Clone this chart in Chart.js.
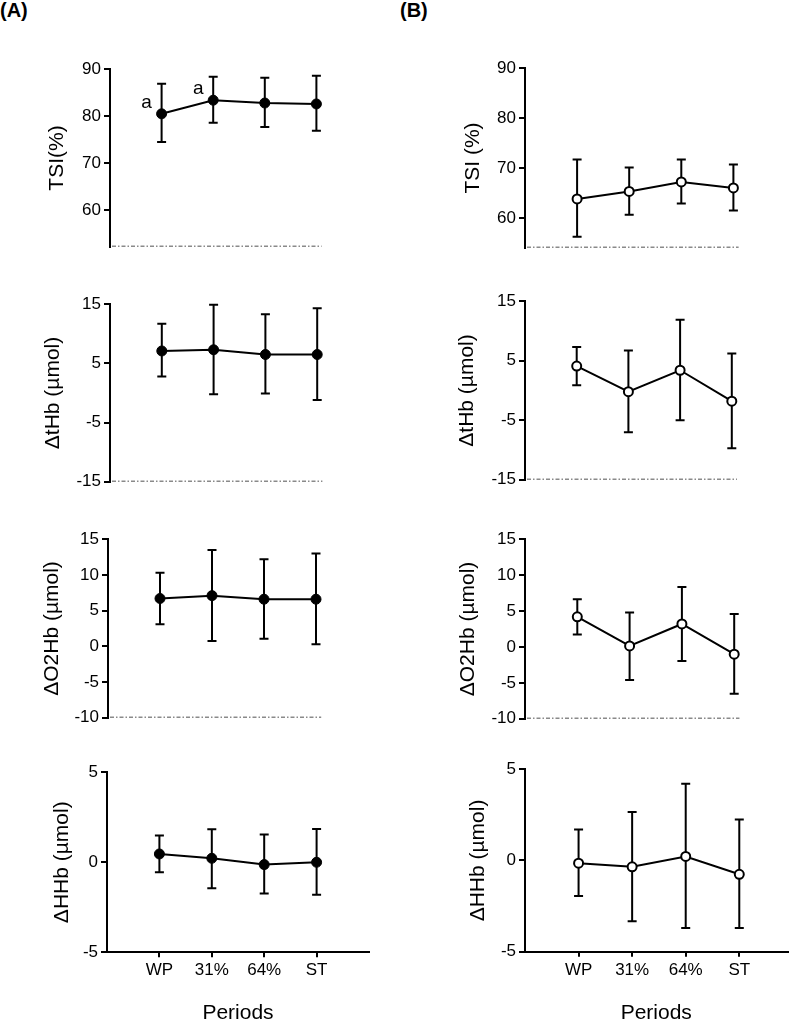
<!DOCTYPE html>
<html>
<head>
<meta charset="utf-8">
<script src="https://cdn.jsdelivr.net/npm/chart.js@4.4.1/dist/chart.umd.min.js"></script>
<style>
  html, body { margin: 0; padding: 0; background: #fff; }
  body { width: 794px; height: 1023px; overflow: hidden; position: relative; font-family: "Liberation Sans", Arial, sans-serif; }
  canvas { position: absolute; }
  .lab { position: absolute; font-weight: bold; font-size: 20px; color: #000; }
</style>
</head>
<body>
<div class="lab" style="left:0px;top:-1px;">(A)</div>
<div class="lab" style="left:400px;top:-1px;">(B)</div>
<script>
// ---------------- DATA ----------------
const periods = ['WP', '31%', '64%', 'ST'];
const xTitle = 'Periods';

// Panel A (filled circles)
const tsiA     = [80.5, 83.4, 82.8, 82.6];
const tsiAHi   = [86.9, 88.4, 88.2, 88.6];
const tsiALo   = [74.5, 78.6, 77.7, 76.9];
const tsiANote = ['a', 'a', '', ''];

const tHbA   = [7.1, 7.3, 6.5, 6.5];
const tHbAHi = [11.7, 14.9, 13.3, 14.3];
const tHbALo = [2.8, -0.2, -0.1, -1.2];

const o2HbA   = [6.7, 7.1, 6.6, 6.6];
const o2HbAHi = [10.3, 13.5, 12.2, 13.0];
const o2HbALo = [3.1, 0.75, 1.05, 0.3];

const hHbA   = [0.46, 0.22, -0.13, 0.0];
const hHbAHi = [1.48, 1.83, 1.54, 1.85];
const hHbALo = [-0.55, -1.45, -1.74, -1.81];

// Panel B (open circles)
const tsiB   = [63.8, 65.3, 67.2, 66.0];
const tsiBHi = [71.7, 70.1, 71.7, 70.7];
const tsiBLo = [56.2, 60.6, 62.9, 61.5];

const tHbB   = [4.1, -0.2, 3.4, -1.8];
const tHbBHi = [7.3, 6.7, 11.9, 6.2];
const tHbBLo = [0.9, -7.0, -5.0, -9.7];

const o2HbB   = [4.2, 0.15, 3.2, -1.0];
const o2HbBHi = [6.65, 4.8, 8.35, 4.6];
const o2HbBLo = [1.75, -4.6, -1.95, -6.5];

const hHbB   = [-0.15, -0.35, 0.22, -0.76];
const hHbBHi = [1.69, 2.65, 4.2, 2.24];
const hHbBLo = [-1.95, -3.33, -3.7, -3.7];

// Axis ticks / ranges
const tsiTicks  = [60, 70, 80, 90];
const tHbTicks  = [-15, -5, 5, 15];
const o2HbTicks = [-10, -5, 0, 5, 10, 15];
const hHbTicks  = [-5, 0, 5];
const tsiARange = [52.2, 90];
const tsiBRange = [54, 90];
const tHbRange  = [-15, 15];
const o2HbRange = [-10, 15];
const hHbRange  = [-5, 5];

const titles = ['TSI(%)', 'TSI (%)', '\u0394tHb (\u00b5mol)', '\u0394O2Hb (\u00b5mol)', '\u0394HHb (\u00b5mol)'];

// ---------------- LAYOUT ----------------
Chart.defaults.font.family = '"Liberation Sans", Arial, sans-serif';
Chart.defaults.color = '#000';

const errBars = {
  id: 'errBars',
  beforeDatasetsDraw(chart, args, o) {
    const ctx = chart.ctx, xs = chart.scales.x, ys = chart.scales.y;
    ctx.save();
    ctx.strokeStyle = '#000'; ctx.lineWidth = 2;
    o.hi.forEach((h, i) => {
      const px = xs.getPixelForValue(i + 1);
      const ph = ys.getPixelForValue(h), pl = ys.getPixelForValue(o.lo[i]);
      ctx.beginPath();
      ctx.moveTo(px, ph); ctx.lineTo(px, pl);
      ctx.moveTo(px - 4.5, ph); ctx.lineTo(px + 4.5, ph);
      ctx.moveTo(px - 4.5, pl); ctx.lineTo(px + 4.5, pl);
      ctx.stroke();
    });
    if (o.dotEnd) {
      const a = chart.chartArea;
      ctx.strokeStyle = '#8a8a8a'; ctx.lineWidth = 1.5;
      ctx.setLineDash([4, 2, 1.5, 2]);
      ctx.beginPath();
      ctx.moveTo(a.left + 2, a.bottom - 0.5);
      ctx.lineTo(xs.getPixelForValue(o.dotEnd), a.bottom - 0.5);
      ctx.stroke();
    }
    ctx.restore();
  },
  afterDatasetsDraw(chart, args, o) {
    if (!o.notes) return;
    const ctx = chart.ctx, xs = chart.scales.x, ys = chart.scales.y;
    ctx.save();
    ctx.font = '19px "Liberation Sans", Arial, sans-serif';
    ctx.fillStyle = '#000'; ctx.textAlign = 'center'; ctx.textBaseline = 'middle';
    o.notes.forEach((t, i) => {
      if (!t) return;
      ctx.fillText(t, xs.getPixelForValue(i + 1) - 15, ys.getPixelForValue(o.vals[i]) - 11);
    });
    ctx.restore();
  }
};

function panel(g, vals, hi, lo, range, ticks, title, open, bottomRow, notes) {
  const PAD = 12;
  const cv = document.createElement('canvas');
  const top = g.plotTop - PAD;
  const canvasBottom = bottomRow ? 1030 : g.plotBottom + PAD;
  const h = Math.round(canvasBottom - top);
  const w = Math.round(g.right - g.colLeft + 4);
  cv.width = w; cv.height = h;
  cv.style.left = g.colLeft + 'px'; cv.style.top = top + 'px';
  cv.style.width = w + 'px'; cv.style.height = h + 'px';
  document.body.appendChild(cv);
  const xMax = g.xMax || 5;
  new Chart(cv, {
    type: 'line',
    data: {
      datasets: [{
        data: vals.map((v, i) => ({ x: i + 1, y: v })),
        borderColor: '#000', borderWidth: 2, tension: 0,
        pointRadius: open ? 4.5 : 5, pointBackgroundColor: open ? '#fff' : '#000',
        pointBorderColor: '#000', pointBorderWidth: open ? 2 : 1
      }]
    },
    options: {
      responsive: false, animation: false, events: [],
      layout: { padding: { top: PAD, bottom: bottomRow ? 0 : PAD, left: 0, right: 4 } },
      plugins: {
        legend: { display: false }, tooltip: { enabled: false },
        errBars: { hi: hi, lo: lo, dotEnd: bottomRow ? 0 : 4.1, notes: notes || null, vals: vals }
      },
      scales: {
        x: {
          type: 'linear', min: 0, max: xMax, display: bottomRow,
          afterBuildTicks: s => { s.ticks = periods.map((p, i) => ({ value: i + 1 })); },
          afterFit: s => { if (bottomRow) s.height = canvasBottom - g.plotBottom; },
          ticks: { font: { size: 17 }, padding: 3, callback: (v, i) => periods[i], maxRotation: 0, autoSkip: false },
          grid: { display: true, drawOnChartArea: false, drawTicks: true, tickLength: 5, color: '#000', lineWidth: 2 },
          border: { display: true, color: '#000', width: 2 },
          title: { display: bottomRow, text: xTitle, font: { size: 21 }, padding: { top: 0, bottom: 4 } }
        },
        y: {
          type: 'linear', min: range[0], max: range[1],
          afterBuildTicks: s => { s.ticks = ticks.map(v => ({ value: v })); },
          afterFit: s => { s.width = g.axisX - g.colLeft; },
          ticks: { font: { size: 17 }, padding: 3 },
          grid: { display: true, drawOnChartArea: false, drawTicks: true, tickLength: 6, color: '#000', lineWidth: 2 },
          border: { display: true, color: '#000', width: 2 },
          title: { display: true, text: title, font: { size: 21 }, padding: { top: g.titleX - g.colLeft - 12.6, bottom: 0 } }
        }
      }
    },
    plugins: [errBars]
  });
}

panel({ colLeft: 0, axisX: 110, right: 370, plotTop: 68, plotBottom: 248, titleX: 57 },
      tsiA, tsiAHi, tsiALo, tsiARange, tsiTicks, titles[0], false, false, tsiANote);
panel({ colLeft: 0, axisX: 110, right: 371, plotTop: 302.7, plotBottom: 482.7, titleX: 53 },
      tHbA, tHbAHi, tHbALo, tHbRange, tHbTicks, titles[2], false, false);
panel({ colLeft: 0, axisX: 108, right: 370, plotTop: 538.3, plotBottom: 719.3, titleX: 52 },
      o2HbA, o2HbAHi, o2HbALo, o2HbRange, o2HbTicks, titles[3], false, false);
panel({ colLeft: 0, axisX: 107, right: 371, plotTop: 770.7, plotBottom: 952.3, titleX: 62 },
      hHbA, hHbAHi, hHbALo, hHbRange, hHbTicks, titles[4], false, true);

panel({ colLeft: 400, axisX: 525, right: 788, plotTop: 66.7, plotBottom: 248.3, titleX: 473 },
      tsiB, tsiBHi, tsiBLo, tsiBRange, tsiTicks, titles[1], true, false);
panel({ colLeft: 400, axisX: 525, right: 786, plotTop: 300, plotBottom: 480.7, titleX: 467 },
      tHbB, tHbBHi, tHbBLo, tHbRange, tHbTicks, titles[2], true, false);
panel({ colLeft: 400, axisX: 525, right: 789, plotTop: 537.7, plotBottom: 719.3, titleX: 468 },
      o2HbB, o2HbBHi, o2HbBLo, o2HbRange, o2HbTicks, titles[3], true, false);
panel({ colLeft: 400, axisX: 525, right: 790, plotTop: 768.3, plotBottom: 951.7, titleX: 478, xMax: 4.9 },
      hHbB, hHbBHi, hHbBLo, hHbRange, hHbTicks, titles[4], true, true);
</script>
</body>
</html>
